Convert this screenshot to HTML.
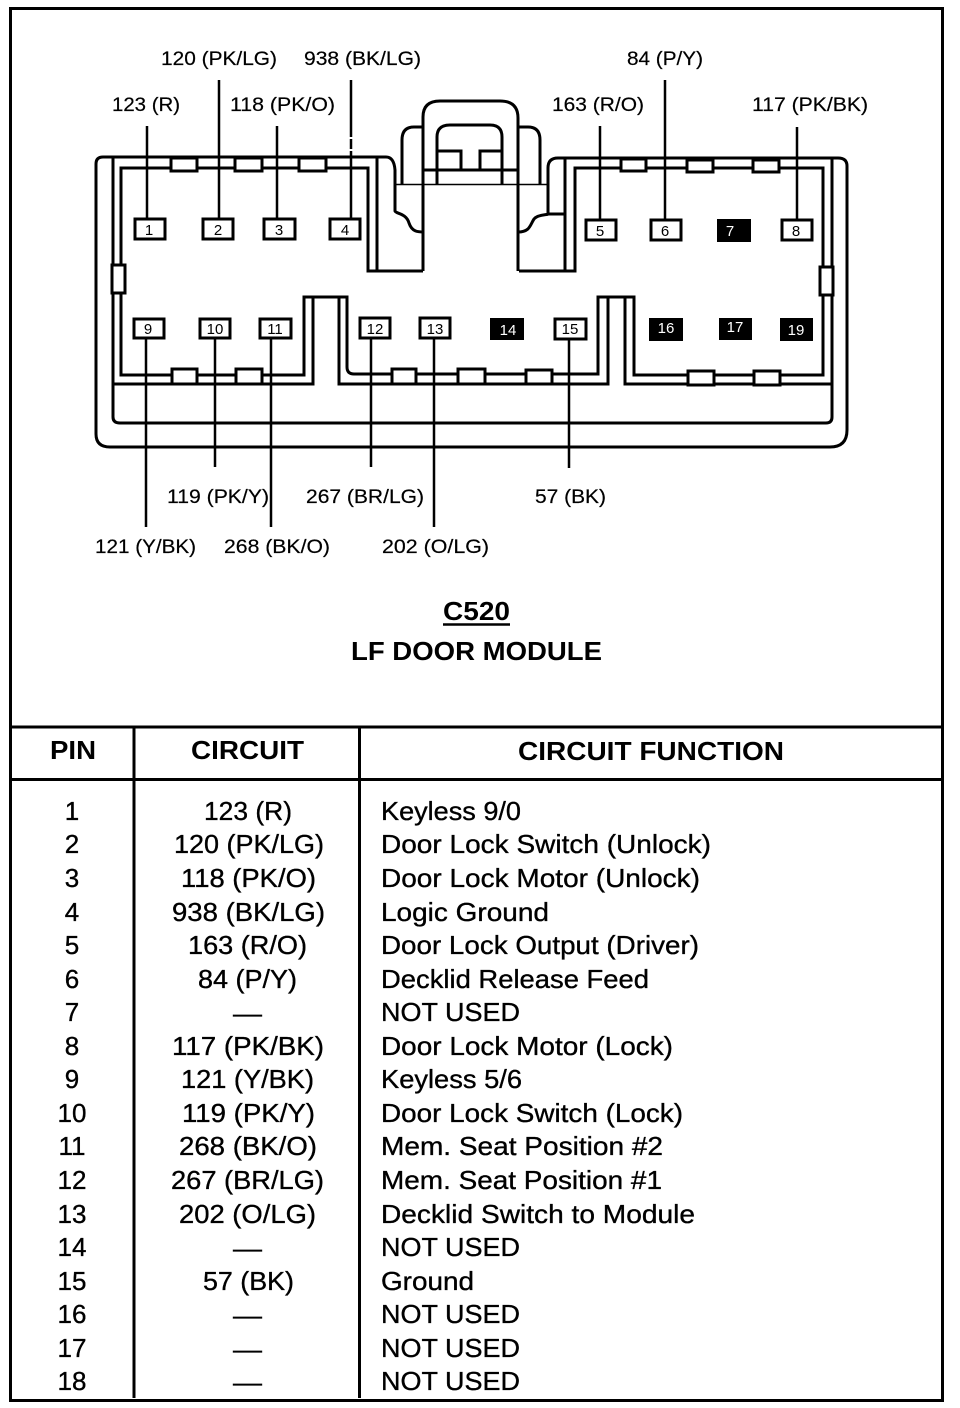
<!DOCTYPE html>
<html>
<head>
<meta charset="utf-8">
<style>
html,body{margin:0;padding:0;background:#fff;width:960px;height:1408px;overflow:hidden}
svg{display:block}
text{font-family:"Liberation Sans",sans-serif;fill:#000}
.l{font-size:19px;stroke:#000;stroke-width:.2px}
.p{font-size:15px;text-anchor:middle}
.w{font-size:15px;text-anchor:middle;fill:#fff}
.r{font-size:26px;stroke:#000;stroke-width:.35px}
.c{font-size:26px;text-anchor:middle;stroke:#000;stroke-width:.35px}
.h{font-size:26px;font-weight:bold}
.s{fill:none;stroke:#000;stroke-width:3}
.t{fill:#fff;stroke:#000;stroke-width:3}
.b{fill:#000;stroke:none}
</style>
</head>
<body>
<svg width="960" height="1408" viewBox="0 0 960 1408" xmlns="http://www.w3.org/2000/svg">
<rect width="960" height="1408" fill="#fff"/>
<!-- frame -->
<rect x="10.5" y="8.5" width="932" height="1392" fill="none" stroke="#000" stroke-width="3"/>
<path d="M10 727H943M10 779.5H943" fill="none" stroke="#000" stroke-width="3"/>
<path d="M134 727V1398M359.500 727V1398" fill="none" stroke="#000" stroke-width="3"/>

<!-- connector outer -->
<path class="s" d="M113 157H103Q96 157 96 164V434Q96 447 110 447H830Q847 447 847 430V166Q847 158 838 158H558Q548 158 548 168V214C548 215 538 214 534 219C530 225 530 232 518 232"/>
<path class="s" d="M113 157H386Q394 157 395 170V211C396 214 406 213 409 223C412 232 418 232 424 232"/>
<path class="s" d="M113 157V417Q113 423 120 423H826Q832 423 832 417V158"/>
<!-- inner contour -->
<path class="s" d="M346 168H121V375H304V297H347V367Q347 374 354 374H598V297H634V375H823V168H575V271H519"/>
<path class="s" d="M346 168H368V271H423"/>
<!-- second contour -->
<path class="s" d="M113 384H313V297M339 297V384H608V297M625 297V384H832"/>
<path class="s" d="M377 157V271M565 158V271M548 214H565"/>
<!-- latch -->
<path class="s" d="M423 271V117Q423 101 440 101H500Q518 101 518 118V271"/>
<path class="s" d="M437 184V137Q437 125 450 125H490Q502 125 502 137V184"/>
<path class="s" d="M402 184V140Q402 127 414 127H423M518 127H528Q540 127 540 140V184"/>
<path d="M395 184.500H548" fill="none" stroke="#000" stroke-width="1.500"/>
<path class="s" d="M423 170H518M437 151H461V170M502 151H480V170"/>

<!-- tabs -->
<rect class="t" x="171" y="158" width="26" height="13"/>
<rect class="t" x="235" y="158" width="27" height="13"/>
<rect class="t" x="299" y="158" width="27" height="13"/>
<rect class="t" x="621" y="159" width="25" height="12"/>
<rect class="t" x="687" y="160" width="26" height="12"/>
<rect class="t" x="753" y="160" width="26" height="12"/>
<rect class="t" x="172" y="369" width="25" height="15"/>
<rect class="t" x="236" y="369" width="26" height="15"/>
<rect class="t" x="392" y="369" width="24" height="15"/>
<rect class="t" x="458" y="369" width="27" height="15"/>
<rect class="t" x="526" y="370" width="26" height="14"/>
<rect class="t" x="688" y="371" width="26" height="14"/>
<rect class="t" x="754" y="371" width="26" height="14"/>
<rect class="t" x="112" y="265" width="13" height="28"/>
<rect class="t" x="820" y="267" width="13" height="28"/>

<!-- wires -->
<path d="M147 126V219M219 80V219M277 126V219M600 126V219M665 80V219M797 127V219M146 338V527M215 338V467M271 338V527M371 338V467M434 338V527M569 338V468" fill="none" stroke="#000" stroke-width="2.500"/>
<path d="M351 80V137M351 139V149M351 151V219" fill="none" stroke="#000" stroke-width="2.500"/>

<!-- pins -->
<rect class="t" x="135" y="219" width="30" height="20"/>
<rect class="t" x="203" y="219" width="30" height="20"/>
<rect class="t" x="264" y="219" width="31" height="20"/>
<rect class="t" x="330" y="219" width="30" height="20"/>
<rect class="t" x="586" y="220" width="30" height="20"/>
<rect class="t" x="651" y="220" width="30" height="20"/>
<rect class="b" x="717" y="219" width="34" height="23"/>
<rect class="t" x="782" y="220" width="30" height="20"/>
<rect class="t" x="134" y="319" width="30" height="19"/>
<rect class="t" x="200" y="319" width="30" height="19"/>
<rect class="t" x="260" y="319" width="31" height="19"/>
<rect class="t" x="360" y="318" width="30" height="20"/>
<rect class="t" x="420" y="318" width="30" height="20"/>
<rect class="b" x="490" y="318" width="34" height="22"/>
<rect class="t" x="555" y="319" width="31" height="20"/>
<rect class="b" x="649" y="318" width="34" height="23"/>
<rect class="b" x="719" y="318" width="33" height="22"/>
<rect class="b" x="780" y="318" width="33" height="23"/>

<text class="p" x="149" y="235">1</text>
<text class="p" x="218" y="235">2</text>
<text class="p" x="279" y="235">3</text>
<text class="p" x="345" y="235">4</text>
<text class="p" x="600" y="236">5</text>
<text class="p" x="665" y="236">6</text>
<text class="w" x="730" y="236">7</text>
<text class="p" x="796" y="236">8</text>
<text class="p" x="148" y="334">9</text>
<text class="p" x="215" y="334">10</text>
<text class="p" x="275" y="334">11</text>
<text class="p" x="375" y="334">12</text>
<text class="p" x="435" y="334">13</text>
<text class="w" x="508" y="335">14</text>
<text class="p" x="570" y="334">15</text>
<text class="w" x="666" y="333">16</text>
<text class="w" x="735" y="332">17</text>
<text class="w" x="796" y="335">19</text>

<!-- wire labels -->
<text class="l" lengthAdjust="spacingAndGlyphs" x="161" y="65" textLength="116">120 (PK/LG)</text>
<text class="l" lengthAdjust="spacingAndGlyphs" x="304" y="65" textLength="117">938 (BK/LG)</text>
<text class="l" lengthAdjust="spacingAndGlyphs" x="627" y="65" textLength="76">84 (P/Y)</text>
<text class="l" lengthAdjust="spacingAndGlyphs" x="112" y="111" textLength="68">123 (R)</text>
<text class="l" lengthAdjust="spacingAndGlyphs" x="230" y="111" textLength="105">118 (PK/O)</text>
<text class="l" lengthAdjust="spacingAndGlyphs" x="552" y="111" textLength="92">163 (R/O)</text>
<text class="l" lengthAdjust="spacingAndGlyphs" x="752" y="111" textLength="116">117 (PK/BK)</text>
<text class="l" lengthAdjust="spacingAndGlyphs" x="167" y="503" textLength="102">119 (PK/Y)</text>
<text class="l" lengthAdjust="spacingAndGlyphs" x="306" y="503" textLength="118">267 (BR/LG)</text>
<text class="l" lengthAdjust="spacingAndGlyphs" x="535" y="503" textLength="71">57 (BK)</text>
<text class="l" lengthAdjust="spacingAndGlyphs" x="95" y="553" textLength="101">121 (Y/BK)</text>
<text class="l" lengthAdjust="spacingAndGlyphs" x="224" y="553" textLength="106">268 (BK/O)</text>
<text class="l" lengthAdjust="spacingAndGlyphs" x="382" y="553" textLength="107">202 (O/LG)</text>

<!-- title -->
<text class="h" lengthAdjust="spacingAndGlyphs" x="443" y="620" textLength="67">C520</text>
<path d="M443 624.500H510" stroke="#000" stroke-width="2.500" fill="none"/>
<text class="h" lengthAdjust="spacingAndGlyphs" x="351" y="660" textLength="251">LF DOOR MODULE</text>

<!-- table header -->
<text class="h" lengthAdjust="spacingAndGlyphs" x="50" y="759" textLength="46">PIN</text>
<text class="h" lengthAdjust="spacingAndGlyphs" x="191" y="759" textLength="113">CIRCUIT</text>
<text class="h" lengthAdjust="spacingAndGlyphs" x="518" y="760" textLength="266">CIRCUIT FUNCTION</text>

<!-- pin col -->
<text class="c" x="72" y="820">1</text>
<text class="c" x="72" y="853">2</text>
<text class="c" x="72" y="887">3</text>
<text class="c" x="72" y="921">4</text>
<text class="c" x="72" y="954">5</text>
<text class="c" x="72" y="988">6</text>
<text class="c" x="72" y="1021">7</text>
<text class="c" x="72" y="1055">8</text>
<text class="c" x="72" y="1088">9</text>
<text class="c" x="72" y="1122">10</text>
<text class="c" x="72" y="1155">11</text>
<text class="c" x="72" y="1189">12</text>
<text class="c" x="72" y="1223">13</text>
<text class="c" x="72" y="1256">14</text>
<text class="c" x="72" y="1290">15</text>
<text class="c" x="72" y="1323">16</text>
<text class="c" x="72" y="1357">17</text>
<text class="c" x="72" y="1390">18</text>

<!-- circuit col -->
<text class="r" lengthAdjust="spacingAndGlyphs" x="204" y="820" textLength="88">123 (R)</text>
<text class="r" lengthAdjust="spacingAndGlyphs" x="174" y="853" textLength="150">120 (PK/LG)</text>
<text class="r" lengthAdjust="spacingAndGlyphs" x="181" y="887" textLength="135">118 (PK/O)</text>
<text class="r" lengthAdjust="spacingAndGlyphs" x="172" y="921" textLength="153">938 (BK/LG)</text>
<text class="r" lengthAdjust="spacingAndGlyphs" x="188" y="954" textLength="119">163 (R/O)</text>
<text class="r" lengthAdjust="spacingAndGlyphs" x="198" y="988" textLength="99">84 (P/Y)</text>
<text class="r" lengthAdjust="spacingAndGlyphs" x="233" y="1022" textLength="29">—</text>
<text class="r" lengthAdjust="spacingAndGlyphs" x="172" y="1055" textLength="152">117 (PK/BK)</text>
<text class="r" lengthAdjust="spacingAndGlyphs" x="181" y="1088" textLength="133">121 (Y/BK)</text>
<text class="r" lengthAdjust="spacingAndGlyphs" x="182" y="1122" textLength="133">119 (PK/Y)</text>
<text class="r" lengthAdjust="spacingAndGlyphs" x="179" y="1155" textLength="138">268 (BK/O)</text>
<text class="r" lengthAdjust="spacingAndGlyphs" x="171" y="1189" textLength="153">267 (BR/LG)</text>
<text class="r" lengthAdjust="spacingAndGlyphs" x="179" y="1223" textLength="137">202 (O/LG)</text>
<text class="r" lengthAdjust="spacingAndGlyphs" x="233" y="1257" textLength="29">—</text>
<text class="r" lengthAdjust="spacingAndGlyphs" x="203" y="1290" textLength="91">57 (BK)</text>
<text class="r" lengthAdjust="spacingAndGlyphs" x="233" y="1324" textLength="29">—</text>
<text class="r" lengthAdjust="spacingAndGlyphs" x="233" y="1358" textLength="29">—</text>
<text class="r" lengthAdjust="spacingAndGlyphs" x="233" y="1391" textLength="29">—</text>

<!-- function col -->
<text class="r" lengthAdjust="spacingAndGlyphs" x="381" y="820" textLength="140">Keyless 9/0</text>
<text class="r" lengthAdjust="spacingAndGlyphs" x="381" y="853" textLength="330">Door Lock Switch (Unlock)</text>
<text class="r" lengthAdjust="spacingAndGlyphs" x="381" y="887" textLength="319">Door Lock Motor (Unlock)</text>
<text class="r" lengthAdjust="spacingAndGlyphs" x="381" y="921" textLength="168">Logic Ground</text>
<text class="r" lengthAdjust="spacingAndGlyphs" x="381" y="954" textLength="318">Door Lock Output (Driver)</text>
<text class="r" lengthAdjust="spacingAndGlyphs" x="381" y="988" textLength="268">Decklid Release Feed</text>
<text class="r" lengthAdjust="spacingAndGlyphs" x="381" y="1021" textLength="139">NOT USED</text>
<text class="r" lengthAdjust="spacingAndGlyphs" x="381" y="1055" textLength="292">Door Lock Motor (Lock)</text>
<text class="r" lengthAdjust="spacingAndGlyphs" x="381" y="1088" textLength="141">Keyless 5/6</text>
<text class="r" lengthAdjust="spacingAndGlyphs" x="381" y="1122" textLength="302">Door Lock Switch (Lock)</text>
<text class="r" lengthAdjust="spacingAndGlyphs" x="381" y="1155" textLength="282">Mem. Seat Position #2</text>
<text class="r" lengthAdjust="spacingAndGlyphs" x="381" y="1189" textLength="281">Mem. Seat Position #1</text>
<text class="r" lengthAdjust="spacingAndGlyphs" x="381" y="1223" textLength="314">Decklid Switch to Module</text>
<text class="r" lengthAdjust="spacingAndGlyphs" x="381" y="1256" textLength="139">NOT USED</text>
<text class="r" lengthAdjust="spacingAndGlyphs" x="381" y="1290" textLength="93">Ground</text>
<text class="r" lengthAdjust="spacingAndGlyphs" x="381" y="1323" textLength="139">NOT USED</text>
<text class="r" lengthAdjust="spacingAndGlyphs" x="381" y="1357" textLength="139">NOT USED</text>
<text class="r" lengthAdjust="spacingAndGlyphs" x="381" y="1390" textLength="139">NOT USED</text>
</svg>
</body>
</html>
